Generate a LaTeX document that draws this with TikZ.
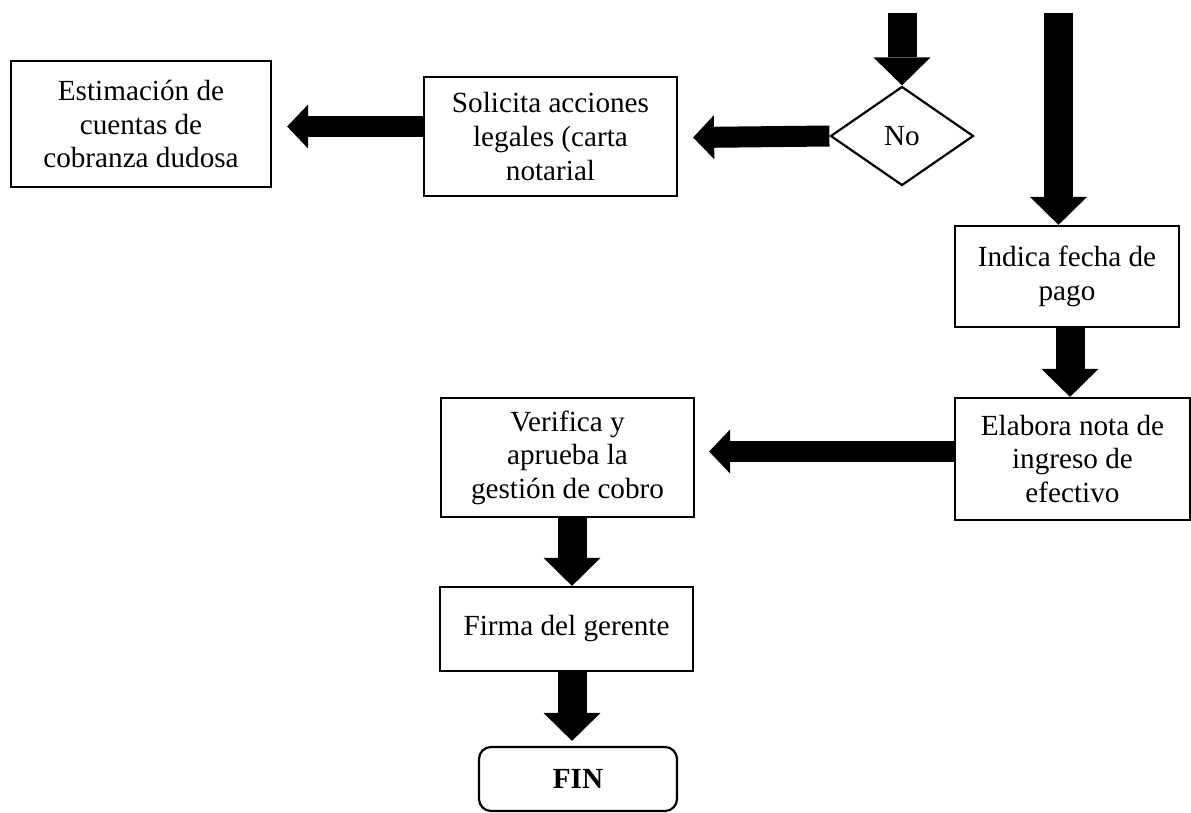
\documentclass[tikz,border=0pt]{standalone}
\usepackage{fontspec}
\setmainfont{Liberation Serif}
\usetikzlibrary{arrows.meta,shapes.geometric,calc}

\begin{document}
\begin{tikzpicture}[x=0.5pt,y=-0.5pt,
  every node/.style={font=\fontsize{14.6pt}{16.8pt}\selectfont, align=center, inner sep=0pt},
  box/.style={draw, line width=1.1pt, rectangle},
  decision/.style={draw, line width=1.1pt, diamond, aspect=1.45},
  terminal/.style={draw, line width=1.1pt, rectangle, rounded corners=6pt},
  vflow/.style={line width=14.5pt, -{Triangle[width=28.5pt,length=14pt,line width=0pt]}},
  hflow/.style={line width=10.5pt, -{Triangle[width=22pt,length=10.5pt,line width=0pt]}}]

  \useasboundingbox (0,0) rectangle (1191,813);
  \clip (0,0) rectangle (1191,813);
  \fill[white] (0,0) rectangle (1191,813);

  % process boxes
  \node[box, minimum width=130pt, minimum height=63pt] (estim) at (141,124)
    {Estimación de\\cuentas de\\cobranza dudosa};
  \node[box, minimum width=126.5pt, minimum height=59.5pt] (solic) at (550.5,136.5)
    {Solicita acciones\\legales (carta\\notarial};
  \node[decision, minimum width=71.5pt, minimum height=49.5pt] (dec) at (902,136) {No};
  \node[box, minimum width=112pt, minimum height=50.5pt] (indica) at (1067,276.5)
    {Indica fecha de\\pago};
  \node[box, minimum width=117.5pt, minimum height=61pt] (elab) at (1072.5,459)
    {Elabora nota de\\ingreso de\\efectivo};
  \node[box, minimum width=126.5pt, minimum height=59.5pt] (verif) at (567.5,457.5)
    {Verifica y\\aprueba la\\gestión de cobro};
  \node[box, minimum width=126.5pt, minimum height=42pt] (firma) at (566.5,629)
    {Firma del gerente};
  \node[terminal, minimum width=99pt, minimum height=32pt] (fin) at (578,779)
    {\textbf{FIN}};

  % incoming flows from above
  \coordinate (in1) at (902,13);
  \coordinate (in2) at (1058.5,13);
  \draw[vflow] (in1) -- (dec.north);
  \draw[vflow] (in2) -- (in2 |- indica.north);

  % flow connectors
  \draw[hflow] (dec.west) -- ($(solic.east)+(15,1)$);
  \draw[hflow] ($(solic.west)+(0,-10)$) -- ($(estim.east)+(15,2.5)$);
  \draw[vflow] ($(indica.south)+(3,0)$) -- ($(elab.north)+(-2.5,0)$);
  \draw[hflow] ($(elab.west)+(0,-7.5)$) -- ($(verif.east)+(14,-6)$);
  \draw[vflow] ($(verif.south)+(4.5,0)$) -- ($(firma.north)+(5.5,0)$);
  \draw[vflow] ($(firma.south)+(5.5,0)$) -- ($(fin.north)+(-6,-5)$);
\end{tikzpicture}
\end{document}
